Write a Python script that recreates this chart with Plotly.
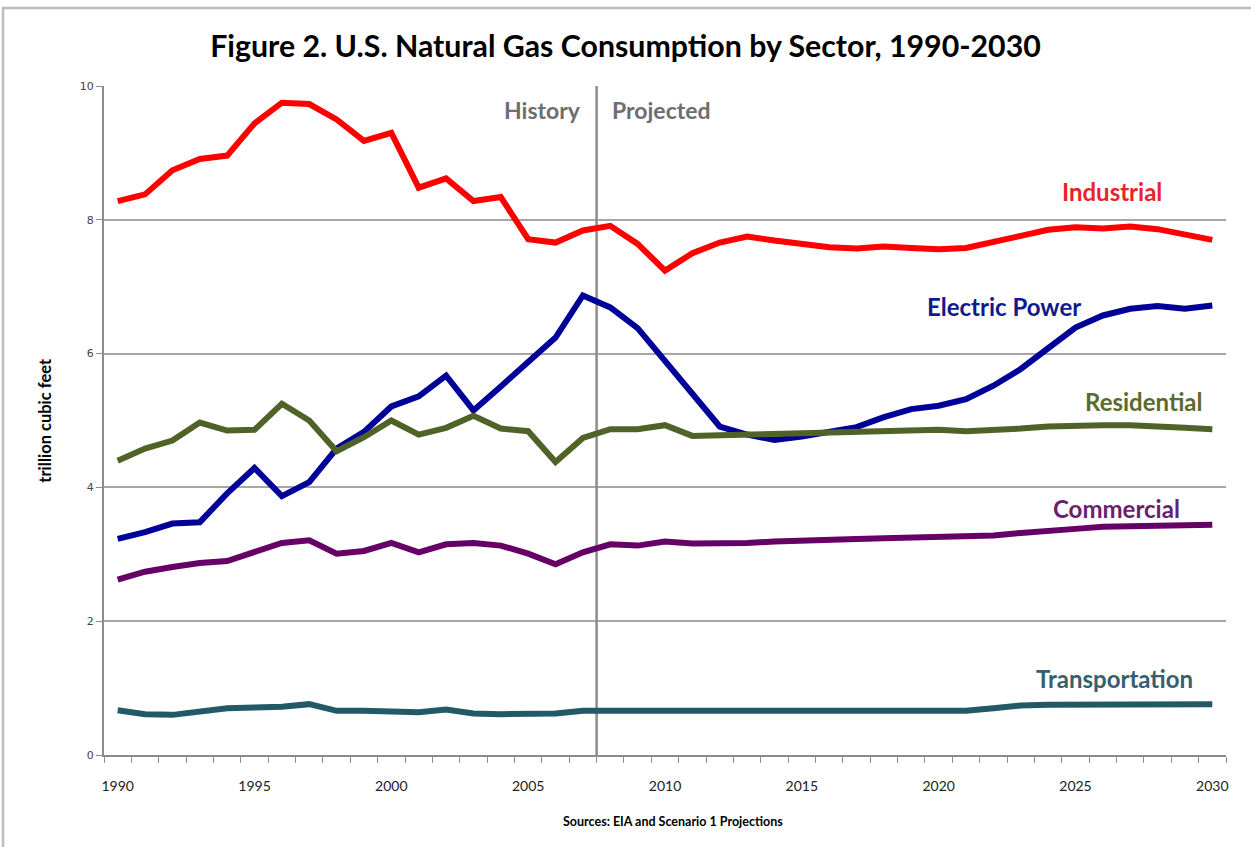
import plotly.graph_objects as go

years = list(range(1990, 2031))

industrial = [8.28, 8.38, 8.74, 8.91, 8.96, 9.44, 9.75, 9.73, 9.50, 9.18, 9.30,
              8.48, 8.62, 8.28, 8.34, 7.71, 7.66, 7.84, 7.91, 7.64, 7.24,
              7.50, 7.66, 7.75, 7.69, 7.63, 7.59, 7.57, 7.60, 7.58, 7.56,
              7.58, 7.66, 7.76, 7.85, 7.89, 7.87, 7.90, 7.86, 7.78, 7.70]
electric = [3.23, 3.33, 3.46, 3.48, 3.91, 4.29, 3.87, 4.08, 4.58, 4.83, 5.21,
            5.36, 5.67, 5.15, 5.51, 5.88, 6.24, 6.87, 6.69, 6.38, 5.90,
            5.40, 4.91, 4.79, 4.71, 4.76, 4.83, 4.90, 5.05, 5.17, 5.22,
            5.32, 5.52, 5.77, 6.08, 6.39, 6.57, 6.67, 6.71, 6.67, 6.72]
residential = [4.40, 4.58, 4.70, 4.97, 4.85, 4.86, 5.25, 5.00, 4.54, 4.75, 5.00,
               4.79, 4.89, 5.07, 4.88, 4.84, 4.38, 4.74, 4.87, 4.87, 4.93,
               4.77, 4.78, 4.79, 4.80, 4.82, 4.84, 4.84, 4.85, 4.85, 4.86,
               4.84, 4.85, 4.88, 4.91, 4.93, 4.93, 4.93, 4.92, 4.89, 4.87]
commercial = [2.62, 2.74, 2.81, 2.87, 2.90, 3.03, 3.17, 3.21, 3.01, 3.05, 3.17,
              3.03, 3.15, 3.17, 3.13, 3.01, 2.85, 3.03, 3.15, 3.13, 3.19,
              3.16, 3.16, 3.17, 3.19, 3.21, 3.22, 3.23, 3.24, 3.25, 3.26,
              3.26, 3.28, 3.32, 3.36, 3.38, 3.41, 3.42, 3.42, 3.43, 3.44]
transportation = [0.67, 0.61, 0.60, 0.64, 0.70, 0.71, 0.72, 0.76, 0.66, 0.66, 0.66,
                  0.64, 0.68, 0.62, 0.61, 0.62, 0.62, 0.66, 0.66, 0.66, 0.65,
                  0.64, 0.64, 0.64, 0.64, 0.64, 0.64, 0.65, 0.65, 0.66, 0.66,
                  0.66, 0.70, 0.74, 0.75, 0.75, 0.76, 0.76, 0.76, 0.76, 0.76]

x_labels = list(range(1990, 2031, 5))
split_year = 2007.5

FONT = "Lato"

# name, values, line colour, label colour, label position (year, value)
series = [
    ("Industrial", industrial, "#FF0000", "#E8232A", (2026.35, 8.42)),
    ("Electric Power", electric, "#000099", "#101A8A", (2022.38, 6.70)),
    ("Residential", residential, "#4F6228", "#5A6B30", (2027.47, 5.28)),
    ("Commercial", commercial, "#660066", "#6A1E6C", (2026.51, 3.69)),
    ("Transportation", transportation, "#215967", "#36606E", (2026.44, 1.15)),
]

fig = go.Figure()

# history / projected divider
fig.add_trace(go.Scatter(x=[split_year, split_year], y=[0, 10], mode="lines",
                         line=dict(color="#8C8C8C", width=2.5),
                         hoverinfo="skip", showlegend=False))

for name, vals, color, _, _ in series:
    fig.add_trace(go.Scatter(x=years, y=vals, mode="lines", name=name,
                             line=dict(color=color, width=6),
                             showlegend=False))

for name, _, _, tcolor, (lx, ly) in series:
    fig.add_annotation(x=lx, y=ly, text="<b>%s</b>" % name, showarrow=False,
                       font=dict(family=FONT, size=24, color=tcolor))

fig.add_annotation(x=2007.0, y=9.64, text="<b>History</b>", showarrow=False,
                   xanchor="right", font=dict(family=FONT, size=23, color="#6E6E6E"))
fig.add_annotation(x=2008.0, y=9.64, text="<b>Projected</b>", showarrow=False,
                   xanchor="left", font=dict(family=FONT, size=23, color="#6E6E6E"))

# y axis title and source note
fig.add_annotation(xref="paper", yref="paper", x=-0.064, y=0.5,
                   text="<b>trillion cubic feet</b>", textangle=-90, showarrow=False,
                   font=dict(family=FONT, size=16.5, color="#000000"))
fig.add_annotation(xref="paper", yref="paper", x=0.507, y=-0.1,
                   text="<b>Sources: EIA and Scenario 1 Projections</b>", showarrow=False,
                   yanchor="middle", font=dict(family=FONT, size=12.5, color="#000000"))

# outer frame
fig.add_shape(type="rect", xref="paper", yref="paper",
              x0=-0.090, x1=1.05, y0=-0.2, y1=1.1166,
              line=dict(color="#BDBDBD", width=2.5))

fig.update_layout(
    width=1251, height=847,
    margin=dict(l=104, r=25, t=86, b=92),
    paper_bgcolor="white", plot_bgcolor="white",
    title=dict(text="<b>Figure 2. U.S. Natural Gas Consumption by Sector, 1990-2030</b>",
               x=0.5, xanchor="center", y=0.945, yanchor="middle",
               font=dict(family=FONT, size=30.3, color="#000000")),
    xaxis=dict(range=[1989.5, 2030.5], tickmode="array", tickvals=x_labels,
               ticks="", showgrid=False, zeroline=False,
               showline=True, linecolor="#8C8C8C", linewidth=2,
               tickfont=dict(family=FONT, size=14, color="#222222"),
               ticklabelstandoff=17,
               minor=dict(tickmode="array",
                          tickvals=[y - 0.5 for y in years] + [2030.5],
                          ticks="outside", ticklen=6, tickcolor="#8C8C8C",
                          tickwidth=1, showgrid=False)),
    yaxis=dict(range=[0, 10], tickmode="array", tickvals=[0, 2, 4, 6, 8, 10],
               ticks="outside", ticklen=6, tickcolor="#8C8C8C",
               showgrid=True, gridcolor="#A6A6A6", gridwidth=1.5,
               zeroline=False, showline=True, linecolor="#8C8C8C", linewidth=2,
               tickfont=dict(family="DejaVu Sans", size=11, color="#444444")),
    hovermode=False,
)

fig.write_html("out.html", config={"displayModeBar": False},
               post_script="document.body.style.margin='0';")
